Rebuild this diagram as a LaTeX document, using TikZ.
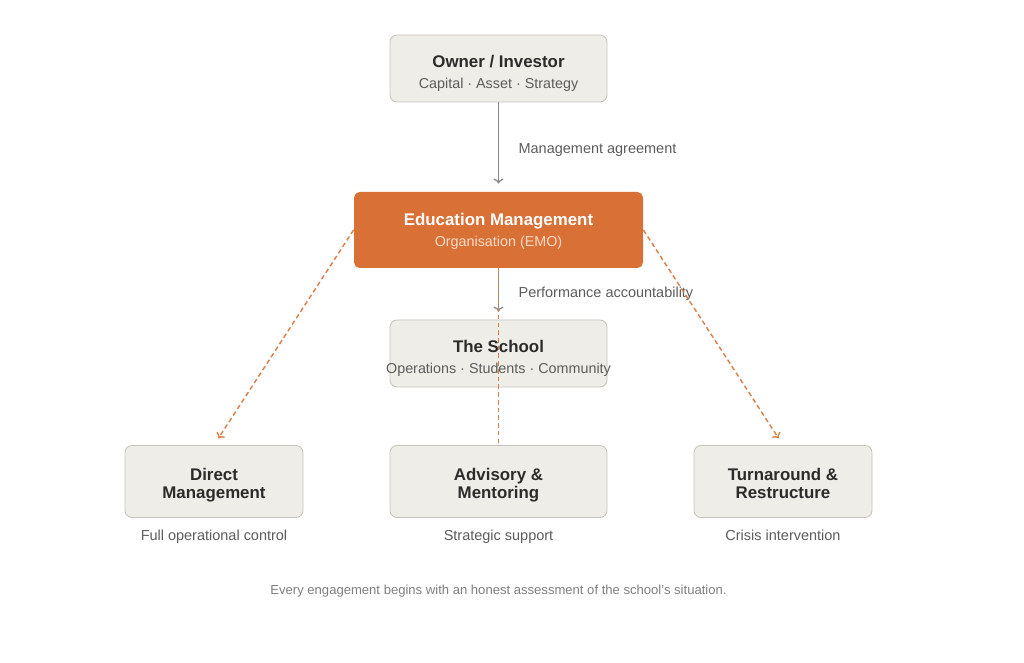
\documentclass[tikz,border=0pt]{standalone}
\usepackage{fontspec}
\setmainfont{Liberation Sans}
\usetikzlibrary{positioning,arrows.meta}

\definecolor{boxfill}{HTML}{EFEDE8}
\definecolor{boxline}{HTML}{C8C4BC}
\definecolor{emoorange}{HTML}{D97035}
\definecolor{emosub}{HTML}{FADBC8}
\definecolor{darktext}{HTML}{2B2B2B}
\definecolor{subtext}{HTML}{5C5C5C}
\definecolor{linegray}{HTML}{8A8A8A}
\definecolor{foottext}{HTML}{808080}

\newcommand{\boxtitle}[2][9pt]{{\fontsize{12}{15}\selectfont\bfseries\rule{0pt}{#1}#2}}
\newcommand{\modetext}[2]{\rule{0pt}{14pt}#1\\#2\rule[-2.6pt]{0pt}{2.6pt}}

\begin{document}
\begin{tikzpicture}[node distance=3.2cm,>={To[length=3.5pt,width=7pt]},thin]
        \tikzstyle{block} = [rectangle, draw=boxline, line width=0.6pt, fill=boxfill, text=darktext, rounded corners=5pt, inner sep=0pt, align=center, font=\fontsize{10.2}{15}\selectfont]
        \tikzstyle{topblock} = [block, minimum width=5.425cm, minimum height=1.675cm]
        \tikzstyle{emoblock} = [block, draw=none, fill=emoorange, text=white, rounded corners=4pt, minimum width=7.225cm, minimum height=1.9cm]
        \tikzstyle{modeblock} = [block, minimum width=4.45cm, minimum height=1.8cm, font=\fontsize{12}{12.8}\selectfont\bfseries]
        \tikzstyle{caption} = [text=subtext, font=\fontsize{10.3}{12}\selectfont, text height=7.5pt, text depth=2.2pt]
        \tikzstyle{arrow} = [->, draw=linegray, line width=0.9pt, shorten >=0.2cm]
        \tikzstyle{dasharrow} = [draw=emoorange!90, line width=1pt, dash pattern=on 3.3pt off 2.2pt]

        % Canvas
        \fill[white] (0,0) rectangle (25.6,-16.575);
        \useasboundingbox (0,0) rectangle (25.6,-16.575);

        % Nodes
        \node[topblock] (owner) at (12.4625,-1.7125) {\boxtitle[16pt]{Owner / Investor}\\\color{subtext}Capital · Asset · Strategy};
        \node[emoblock, below of=owner, yshift=-0.8375cm] (emo) {\boxtitle[11pt]{Education Management}\\\color{emosub}Organisation (EMO)};
        \node[topblock, below of=emo, yshift=0.1125cm] (school) {\boxtitle[16pt]{The School}\\\color{subtext}\makebox[0pt]{Operations · Students · Community}};

        % Engagement modes
        \node[modeblock, below of=school, xshift=-7.1125cm] (direct) {\modetext{Direct}{Management}};
        \node[modeblock, below of=school, minimum width=5.425cm] (advisory) {\modetext{Advisory \&}{Mentoring}};
        \node[modeblock, below of=school, xshift=7.1125cm] (turnaround) {\modetext{Turnaround \&}{Restructure}};

        % Captions
        \node[caption, node distance=1.375cm, below of=direct] (directcap) {Full operational control};
        \node[caption, node distance=1.375cm, below of=advisory] (advisorycap) {Strategic support};
        \node[caption, node distance=1.375cm, below of=turnaround] (turnaroundcap) {Crisis intervention};
        \node[text=foottext, font=\fontsize{9.3}{11}\selectfont, node distance=2.75cm, below of=advisory] (footer) {Every engagement begins with an honest assessment of the school's situation.};

        % Solid arrows
        \draw[arrow] (owner) -- node[caption, midway, anchor=west, xshift=0.37cm, yshift=-0.08cm] (agreement) {Management agreement} (emo);
        \draw[arrow] (emo) -- node[caption, midway, anchor=west, xshift=0.37cm] (accountability) {Performance accountability} (school);

        % Dashed arrows to the modes
        \draw[dasharrow, ->, shorten >=0.2cm] (emo.west) -- (direct.north);
        \draw[dasharrow] (emo.south) -- (advisory.north);
        \draw[dasharrow, ->, shorten >=0.2cm] (emo.east) -- (turnaround.north);
    \end{tikzpicture}
\end{document}
